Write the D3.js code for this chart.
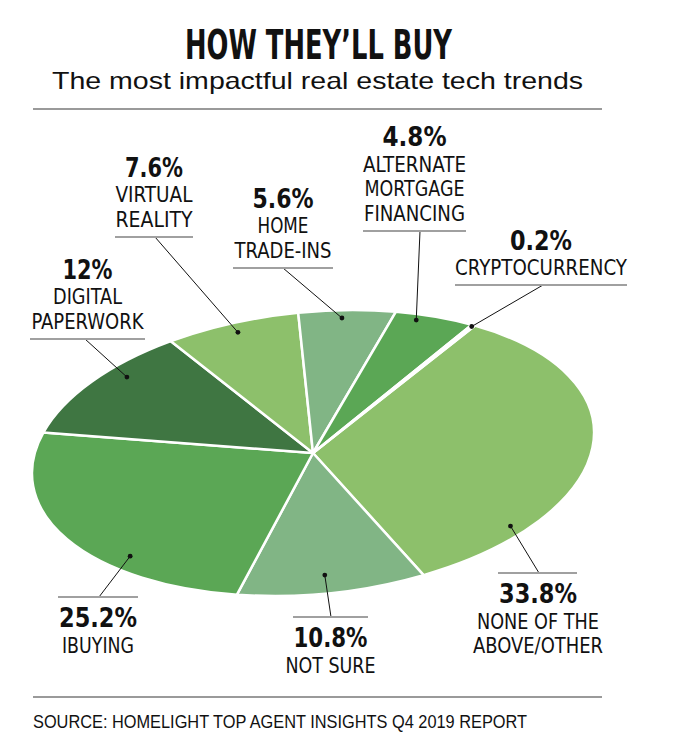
<!DOCTYPE html>
<html>
<head>
<meta charset="utf-8">
<script src="https://cdn.jsdelivr.net/npm/d3@7"></script>
<style>
  html, body { margin: 0; padding: 0; background: #fff; }
  svg { display: block; }
</style>
</head>
<body>
<svg id="chart" width="680" height="756"></svg>
<script>
// ---------- data ----------
const categories = ["NONE OF THE ABOVE/OTHER", "NOT SURE", "IBUYING", "DIGITAL PAPERWORK",
                    "VIRTUAL REALITY", "HOME TRADE-INS", "ALTERNATE MORTGAGE FINANCING", "CRYPTOCURRENCY"];
const values = [33.8, 10.8, 25.2, 12, 7.6, 5.6, 4.8, 0.2];
const percentLabels = ["33.8%", "10.8%", "25.2%", "12%", "7.6%", "5.6%", "4.8%", "0.2%"];
const labelLines = [
  ["NONE OF THE", "ABOVE/OTHER"],
  ["NOT SURE"],
  ["IBUYING"],
  ["DIGITAL", "PAPERWORK"],
  ["VIRTUAL", "REALITY"],
  ["HOME", "TRADE-INS"],
  ["ALTERNATE", "MORTGAGE", "FINANCING"],
  ["CRYPTOCURRENCY"]
];
const title = "HOW THEY\u2019LL BUY";
const subtitle = "The most impactful real estate tech trends";
const source = "SOURCE: HOMELIGHT TOP AGENT INSIGHTS Q4 2019 REPORT";

// ---------- styling / layout ----------
const colors = ["#8dc06b", "#81b585", "#5ba755", "#3f7642", "#8dc06b", "#81b585", "#5ba755", "#81b585"];
const cx = 313, cy = 453, R = 282, squash = 0.5, tilt = -5.5;
const startDeg = 37.9;
// anchor within slice: fraction along slice, fraction of radius
const anchorT = [0.79, 0.525, 0.33, 0.63, 0.5, 0.46, 0.31, 0.5];
const anchorR = [0.935, 0.87, 0.91, 0.915, 0.93, 0.945, 0.96, 0.99];
// label layout
const labelLayout = [
  {x: 538, uy: 573, ux0: 498, ux1: 577, lx: 539, pos: "below", pw: 78, lw: [122, 130]},
  {x: 330.5, uy: 617, ux0: 293, ux1: 368, lx: 331, pos: "below", pw: 74, lw: [90]},
  {x: 98, uy: 597, ux0: 58, ux1: 138, lx: 99, pos: "below", pw: 78, lw: [72]},
  {x: 87.5, uy: 339, ux0: 30, ux1: 145, lx: 85, pos: "above", pw: 50, lw: [69, 112]},
  {x: 154, uy: 237, ux0: 115, ux1: 193, lx: 155, pos: "above", pw: 58, lw: [77, 77]},
  {x: 283, uy: 268, ux0: 233, ux1: 333, lx: 283, pos: "above", pw: 61, lw: [51, 97]},
  {x: 414.5, uy: 231, ux0: 363, ux1: 466, lx: 420, pos: "above", pw: 64, lw: [103, 100, 101]},
  {x: 541, uy: 285, ux0: 455, ux1: 627, lx: 543, pos: "above", pw: 62, lw: [172]}
];

const svg = d3.select("#chart");
const condensed = "'Liberation Sans Narrow', 'Arial Narrow', 'DejaVu Sans Condensed', sans-serif";
const plain = "'Liberation Sans', Arial, sans-serif";

// title + subtitle
svg.append("text").attr("x", 318.5).attr("y", 58.5).attr("text-anchor", "middle")
  .attr("font-family", condensed).attr("font-weight", 700).attr("font-size", 40)
  .attr("textLength", 267).attr("lengthAdjust", "spacingAndGlyphs")
  .attr("fill", "#111").text(title);
svg.append("text").attr("x", 52).attr("y", 89)
  .attr("font-family", plain).attr("font-size", 24)
  .attr("textLength", 531).attr("lengthAdjust", "spacingAndGlyphs")
  .attr("fill", "#111").text(subtitle);
svg.append("line").attr("x1", 33).attr("x2", 602).attr("y1", 109).attr("y2", 109)
  .attr("stroke", "#9a9a9a").attr("stroke-width", 2);

// pie
const rad = d => d * Math.PI / 180;
const pie = d3.pie().sort(null).startAngle(rad(startDeg)).endAngle(rad(startDeg) + 2 * Math.PI);
const arcs = pie(values);
const arc = d3.arc().innerRadius(0).outerRadius(R);

const g = svg.append("g")
  .attr("transform", `translate(${cx},${cy}) rotate(${tilt}) scale(1,${squash})`);
g.selectAll("path").data(arcs).join("path")
  .attr("d", arc)
  .attr("fill", (d, i) => colors[i])
  .attr("stroke", "#fff").attr("stroke-width", 2.5)
  .attr("vector-effect", "non-scaling-stroke")
  .attr("stroke-linejoin", "round");

// project circle-space (angle, r) onto the tilted ellipse
function project(a, r) {
  const x0 = r * Math.sin(a), y0 = -r * Math.cos(a) * squash;
  const t = rad(tilt);
  return [cx + x0 * Math.cos(t) - y0 * Math.sin(t), cy + x0 * Math.sin(t) + y0 * Math.cos(t)];
}

// labels
const pctFont = 26, txtFont = 22, firstGap = 25.5, lineGap = 24.6;
arcs.forEach((d, i) => {
  const L = labelLayout[i];
  const a = d.startAngle + (d.endAngle - d.startAngle) * anchorT[i];
  const [px, py] = project(a, R * anchorR[i]);
  svg.append("line").attr("x1", px).attr("y1", py).attr("x2", L.lx).attr("y2", L.uy)
    .attr("stroke", "#111").attr("stroke-width", 1);
  svg.append("circle").attr("cx", px).attr("cy", py).attr("r", 2.4).attr("fill", "#111");
  svg.append("line").attr("x1", L.ux0).attr("x2", L.ux1).attr("y1", L.uy).attr("y2", L.uy)
    .attr("stroke", "#a0a0a0").attr("stroke-width", 2);

  const lines = labelLines[i];
  const pctBase = L.pos === "above"
    ? (L.uy - 10) - (lines.length - 1) * lineGap - firstGap
    : L.uy + 30;
  svg.append("text").attr("x", L.x).attr("y", pctBase).attr("text-anchor", "middle")
    .attr("font-family", condensed).attr("font-weight", 700).attr("font-size", pctFont)
    .attr("textLength", L.pw).attr("lengthAdjust", "spacingAndGlyphs")
    .attr("fill", "#111").text(percentLabels[i]);
  lines.forEach((s, j) => {
    svg.append("text").attr("x", L.x).attr("y", pctBase + firstGap + j * lineGap)
      .attr("text-anchor", "middle")
      .attr("font-family", condensed).attr("font-weight", 400).attr("font-size", txtFont)
      .attr("textLength", L.lw[j]).attr("lengthAdjust", "spacingAndGlyphs")
      .attr("fill", "#111").text(s);
  });
});

// footer
svg.append("line").attr("x1", 33).attr("x2", 602).attr("y1", 697).attr("y2", 697)
  .attr("stroke", "#9a9a9a").attr("stroke-width", 2);
svg.append("text").attr("x", 33).attr("y", 728)
  .attr("font-family", plain).attr("font-size", 18)
  .attr("textLength", 494).attr("lengthAdjust", "spacingAndGlyphs")
  .attr("fill", "#111").text(source);
</script>
</body>
</html>
